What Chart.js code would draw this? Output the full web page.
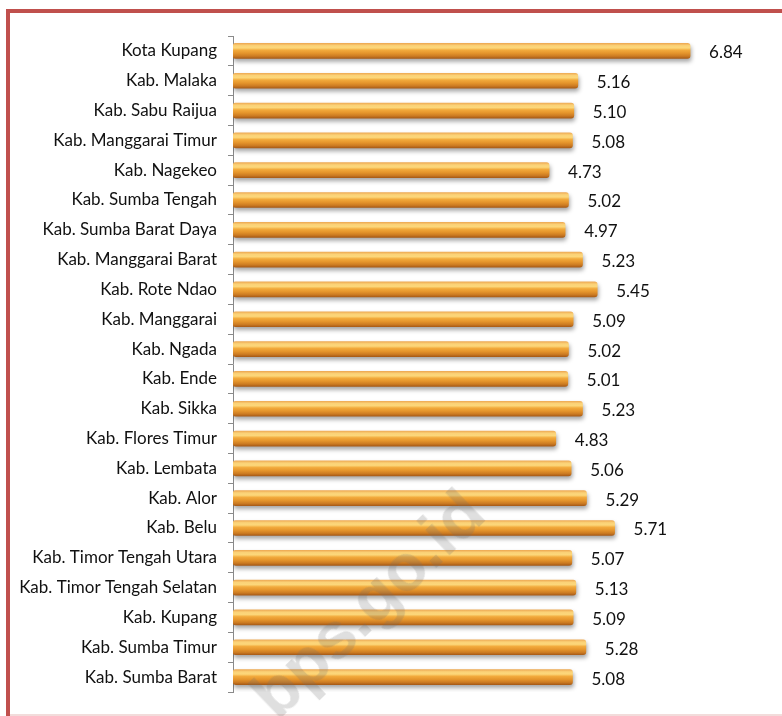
<!DOCTYPE html>
<html>
<head>
<meta charset="utf-8">
<script src="https://cdn.jsdelivr.net/npm/chart.js@4"></script>
<style>
  html, body { margin: 0; padding: 0; background: #fff; }
  #wrap { position: relative; width: 782px; height: 716px; overflow: hidden; }
  #frame {
    position: absolute; left: 6px; top: 9px; width: 800px; height: 720px;
    border-top: 4px solid #c0504d; border-left: 4px solid #c0504d;
  }
  #bottomLine { position: absolute; left: 10px; top: 714px; width: 780px; height: 2px; background: #f2dcdb; }
  #chartBox { position: absolute; left: 0; top: 0; width: 782px; height: 716px; }
  #watermark {
    position: absolute; left: 367px; top: 603px;
    transform: translate(-50%, -50%) rotate(-44deg);
    font: bold 66px "Liberation Sans", Arial, sans-serif;
    color: rgba(110,110,110,0.22); white-space: nowrap; pointer-events: none;
  }
</style>
</head>
<body>
<div id="wrap">
  <div id="frame"></div>
  <div id="bottomLine"></div>
  <div id="chartBox"><canvas id="chart" width="782" height="716"></canvas></div>
  <div id="watermark">bps.go.id</div>
</div>
<script>
// --- Data ---
const regions = [
  "Kota Kupang", "Kab. Malaka", "Kab. Sabu Raijua", "Kab. Manggarai Timur",
  "Kab. Nagekeo", "Kab. Sumba Tengah", "Kab. Sumba Barat Daya", "Kab. Manggarai Barat",
  "Kab. Rote Ndao", "Kab. Manggarai", "Kab. Ngada", "Kab. Ende", "Kab. Sikka",
  "Kab. Flores Timur", "Kab. Lembata", "Kab. Alor", "Kab. Belu",
  "Kab. Timor Tengah Utara", "Kab. Timor Tengah Selatan", "Kab. Kupang",
  "Kab. Sumba Timur", "Kab. Sumba Barat"
];
const values = [
  6.84, 5.16, 5.10, 5.08, 4.73, 5.02, 4.97, 5.23, 5.45, 5.09, 5.02,
  5.01, 5.23, 4.83, 5.06, 5.29, 5.71, 5.07, 5.13, 5.09, 5.28, 5.08
];

const FONT = "Lato, 'Liberation Sans', sans-serif";
const BAR_H = 15;

// --- Orange tube gradient per bar ---
function barGradient(c) {
  const chart = c.chart;
  const y = chart.scales.y;
  if (!y || c.dataIndex === undefined) return "#eb9a2e";
  const cy = y.getPixelForValue(c.dataIndex);
  if (!isFinite(cy)) return "#eb9a2e";
  const g = chart.ctx.createLinearGradient(0, cy - BAR_H / 2, 0, cy + BAR_H / 2);
  g.addColorStop(0, "#eeab55");
  g.addColorStop(0.15, "#fbd277");
  g.addColorStop(0.3, "#fcd77a");
  g.addColorStop(0.45, "#f2aa3c");
  g.addColorStop(0.65, "#e5952c");
  g.addColorStop(0.85, "#cc7b22");
  g.addColorStop(1, "#a95c17");
  return g;
}

// --- Soft shadow under bars ---
const shadowPlugin = {
  id: "barShadow",
  beforeDatasetsDraw(chart) {
    const ctx = chart.ctx;
    ctx.save();
    ctx.shadowColor = "rgba(0,0,0,0.35)";
    ctx.shadowBlur = 4;
    ctx.shadowOffsetX = 1;
    ctx.shadowOffsetY = 3;
  },
  afterDatasetsDraw(chart) {
    chart.ctx.restore();
  }
};

// --- Value labels to the right of bars ---
const valueLabels = {
  id: "valueLabels",
  afterDatasetsDraw(chart) {
    const ctx = chart.ctx;
    const meta = chart.getDatasetMeta(0);
    ctx.save();
    ctx.shadowColor = "transparent";
    ctx.font = "17px " + FONT;
    ctx.fillStyle = "#111";
    ctx.textAlign = "left";
    ctx.textBaseline = "middle";
    meta.data.forEach((el, i) => {
      ctx.fillText(values[i].toFixed(2), el.x + 19, el.y + 2);
    });
    ctx.restore();
  }
};

new Chart(document.getElementById("chart"), {
  type: "bar",
  data: {
    labels: regions,
    datasets: [{
      data: values,
      backgroundColor: barGradient,
      borderWidth: 0,
      borderRadius: 3,
      borderSkipped: false,
      barThickness: BAR_H
    }]
  },
  options: {
    indexAxis: "y",
    responsive: false,
    animation: false,
    layout: { padding: { top: 36, bottom: 24, left: 0, right: 1 } },
    scales: {
      x: { display: false, min: 0, max: 8.2 },
      y: {
        afterFit(s) { s.width = 233; },
        grid: { drawOnChartArea: false, tickLength: 5, color: "#8a8a8a", lineWidth: 1 },
        border: { color: "#8a8a8a", width: 1 },
        ticks: { color: "#111", padding: 11, font: { family: FONT, size: 17 }, autoSkip: false }
      }
    },
    plugins: {
      legend: { display: false },
      tooltip: { enabled: false }
    }
  },
  plugins: [shadowPlugin, valueLabels]
});
</script>
</body>
</html>
